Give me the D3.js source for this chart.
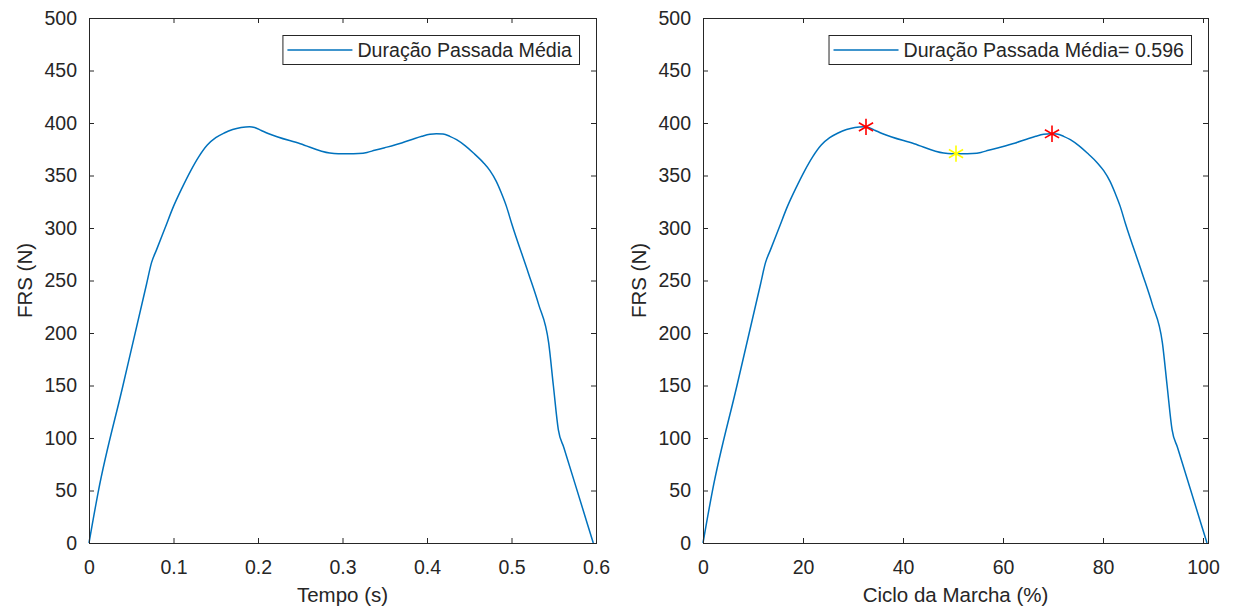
<!DOCTYPE html>
<html>
<head>
<meta charset="utf-8">
<script src="https://cdn.jsdelivr.net/npm/d3@7"></script>
<style>
  html, body { margin: 0; padding: 0; background: #fff; }
  svg { display: block; font-family: "Liberation Sans", Arial, Helvetica, sans-serif; }
</style>
</head>
<body>
<svg id="chart" width="1233" height="609"></svg>
<script>
// Mean stride ground reaction force (FRS), shown against time and against gait cycle.
const strideDuration = 0.596;

const timeS = [0, 0.011, 0.040, 0.068, 0.074, 0.080, 0.090, 0.100, 0.110, 0.120,
  0.130, 0.140, 0.150, 0.160, 0.170, 0.180, 0.190, 0.196, 0.204, 0.212,
  0.250, 0.285, 0.295, 0.307, 0.319, 0.329, 0.338, 0.350, 0.370, 0.384,
  0.394, 0.4035, 0.411, 0.419, 0.427, 0.435, 0.445, 0.455, 0.467, 0.4745,
  0.482, 0.488, 0.494, 0.500, 0.520, 0.532, 0.544, 0.5496, 0.5554, 0.562,
  0.590, 0.5968];

const cyclePct = [0, 1.86, 6.76, 11.49, 12.50, 13.51, 15.20, 16.89, 18.58, 20.27,
  21.96, 23.65, 25.34, 27.02, 28.71, 30.40, 32.09, 33.10, 34.46, 35.81,
  42.23, 48.14, 49.83, 51.85, 53.88, 55.57, 57.09, 59.12, 62.49, 64.86,
  66.55, 68.15, 69.42, 70.77, 72.12, 73.47, 75.16, 76.85, 78.88, 80.14,
  81.41, 82.42, 83.44, 84.45, 87.83, 89.85, 91.88, 92.83, 93.81, 94.92,
  99.65, 100.8];

const forceN = [0, 49, 149.3, 246.2, 267, 279.4, 300, 320.6, 338, 354,
  368, 379, 386, 390.5, 393.8, 395.7, 396.5, 395.8, 392.9, 390,
  380.3, 371.4, 370.8, 370.7, 371.0, 372, 374, 376.5, 381, 384.8,
  387.3, 389.2, 389.8, 389.5, 387.3, 384.1, 378.4, 371.4, 362, 354.6,
  344.4, 333.3, 320.6, 304.8, 257, 227.5, 190.5, 149.5, 108, 90.8,
  17.7, 0];

// Force peaks and the mid-stance valley on the gait-cycle curve
const peakPct = [32.6, 69.8];
const peakForce = [396.3, 389.7];
const valleyPct = [50.6];
const valleyForce = [370.8];

const timeTicks = [0, 0.1, 0.2, 0.3, 0.4, 0.5, 0.6];
const cycleTicks = [0, 20, 40, 60, 80, 100];
const forceTicks = [0, 50, 100, 150, 200, 250, 300, 350, 400, 450, 500];

const lineColor = "#0072BD";
const inkColor = "#262626";

const svg = d3.select("#chart");

const panels = [
  {
    left: 89, right: 596, top: 18, bottom: 543,
    xDomain: [0, 0.6], xTicks: timeTicks, xs: timeS,
    xLabel: "Tempo (s)", yLabelX: 32,
    legend: "Duração Passada Média"
  },
  {
    left: 703, right: 1208, top: 18, bottom: 543,
    xDomain: [0, 101], xTicks: cycleTicks, xs: cyclePct,
    xLabel: "Ciclo da Marcha (%)", yLabelX: 646,
    legend: "Duração Passada Média= " + strideDuration.toFixed(3),
    markers: true
  }
];

panels.forEach(p => {
  const x = d3.scaleLinear().domain(p.xDomain).range([p.left, p.right]);
  const y = d3.scaleLinear().domain([0, 500]).range([p.bottom, p.top]);
  const g = svg.append("g");

  // force curve
  const line = d3.line()
    .x((d, i) => x(p.xs[i]))
    .y(d => y(d))
    .curve(d3.curveMonotoneX);
  g.append("path")
    .datum(forceN)
    .attr("d", line)
    .attr("fill", "none")
    .attr("stroke", lineColor)
    .attr("stroke-width", 1.5)
    .attr("stroke-linejoin", "round");

  // axes with inward ticks on all four sides
  const tickFont = 19.5;
  const bottomAxis = g.append("g")
    .attr("transform", `translate(0,${p.bottom})`)
    .call(d3.axisBottom(x).tickValues(p.xTicks).tickSizeInner(-5).tickSizeOuter(0).tickPadding(17)
      .tickFormat(d => String(d)));
  const topAxis = g.append("g")
    .attr("transform", `translate(0,${p.top})`)
    .call(d3.axisTop(x).tickValues(p.xTicks).tickSizeInner(-5).tickSizeOuter(0).tickFormat(""));
  const leftAxis = g.append("g")
    .attr("transform", `translate(${p.left},0)`)
    .call(d3.axisLeft(y).tickValues(forceTicks).tickSizeInner(-5).tickSizeOuter(0).tickPadding(12)
      .tickFormat(d => String(d)));
  const rightAxis = g.append("g")
    .attr("transform", `translate(${p.right},0)`)
    .call(d3.axisRight(y).tickValues(forceTicks).tickSizeInner(-5).tickSizeOuter(0).tickFormat(""));

  [bottomAxis, topAxis, leftAxis, rightAxis].forEach(a => {
    a.select(".domain").remove();
    a.selectAll(".tick line").attr("stroke", inkColor);
    a.selectAll(".tick text")
      .attr("font-size", tickFont)
      .attr("font-family", "Liberation Sans, Arial, sans-serif")
      .attr("fill", inkColor);
  });

  // axes box
  g.append("rect")
    .attr("x", p.left + 0.5).attr("y", p.top + 0.5)
    .attr("width", p.right - p.left).attr("height", p.bottom - p.top)
    .attr("fill", "none").attr("stroke", inkColor).attr("stroke-width", 1);

  // axis titles
  g.append("text")
    .attr("x", (p.left + p.right) / 2).attr("y", 602)
    .attr("text-anchor", "middle")
    .attr("font-size", 20.5).attr("fill", inkColor)
    .text(p.xLabel);
  g.append("text")
    .attr("transform", `translate(${p.yLabelX},${(p.top + p.bottom) / 2}) rotate(-90)`)
    .attr("text-anchor", "middle")
    .attr("font-size", 20.5).attr("fill", inkColor)
    .text("FRS (N)");

  // peak and valley markers
  if (p.markers) {
    const star = d3.symbol(d3.symbolAsterisk, 190);
    g.selectAll(".peak").data(peakPct).join("path")
      .attr("class", "peak")
      .attr("transform", (d, i) => `translate(${x(d)},${y(peakForce[i])})`)
      .attr("d", star)
      .attr("fill", "none").attr("stroke", "#FF0000").attr("stroke-width", 1.6);
    g.selectAll(".valley").data(valleyPct).join("path")
      .attr("class", "valley")
      .attr("transform", (d, i) => `translate(${x(d)},${y(valleyForce[i])})`)
      .attr("d", star)
      .attr("fill", "none").attr("stroke", "#FFFF00").attr("stroke-width", 1.6);
  }

  // legend
  const lg = g.append("g");
  const boxH = 29, boxTop = 35;
  const label = lg.append("text")
    .attr("font-size", 19.6).attr("fill", inkColor)
    .text(p.legend);
  const textW = label.node().getComputedTextLength();
  const boxW = 5 + 65 + 5 + textW + 7;
  const boxLeft = p.right - 17 - boxW;
  label.attr("x", boxLeft + 75).attr("y", boxTop + boxH / 2 + 7);
  lg.insert("rect", "text")
    .attr("x", boxLeft + 0.5).attr("y", boxTop + 0.5)
    .attr("width", boxW).attr("height", boxH)
    .attr("fill", "#fff").attr("stroke", inkColor).attr("stroke-width", 1);
  lg.append("line")
    .attr("x1", boxLeft + 5).attr("x2", boxLeft + 70)
    .attr("y1", boxTop + boxH / 2 + 0.5).attr("y2", boxTop + boxH / 2 + 0.5)
    .attr("stroke", lineColor).attr("stroke-width", 1.5);
});
</script>
</body>
</html>
